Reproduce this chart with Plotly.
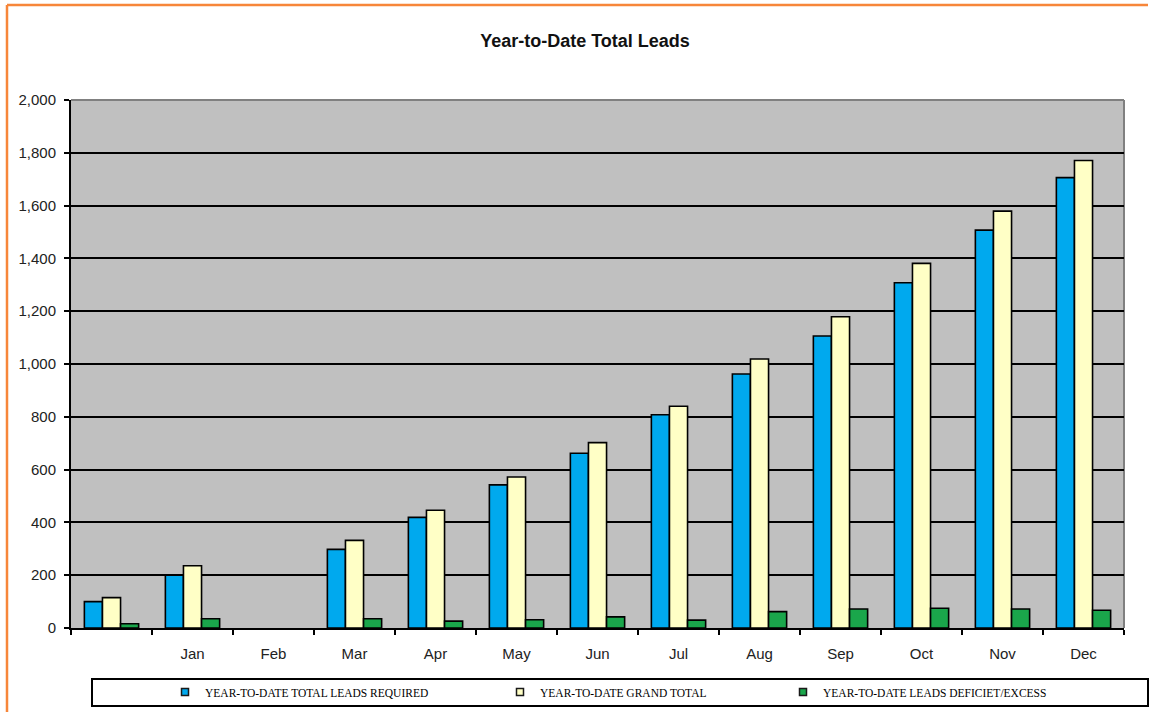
import plotly.graph_objects as go

categories = [" ", "Jan", "Feb", "Mar", "Apr", "May", "Jun", "Jul", "Aug", "Sep", "Oct", "Nov", "Dec"]
leads_required = [100, 200, None, 298, 419, 542, 662, 808, 962, 1106, 1308, 1507, 1706]
grand_total = [115, 236, None, 332, 446, 572, 702, 840, 1019, 1179, 1381, 1579, 1771]
deficit_excess = [16, 35, None, 35, 26, 31, 42, 30, 62, 72, 75, 72, 67]
y_ticks = [0, 200, 400, 600, 800, 1000, 1200, 1400, 1600, 1800, 2000]

series_names = ["YEAR-TO-DATE TOTAL LEADS REQUIRED", "YEAR-TO-DATE GRAND TOTAL", "YEAR-TO-DATE LEADS DEFICIET/EXCESS"]
series_colors = ["#00A9EE", "#FFFFC6", "#1AA64B"]

W, H = 1151, 712
L, R, T, B = 71, 1124, 100, 628
pw, ph = R - L, B - T

def px(x):
    return (x - L) / pw

def py(y):
    return (B - y) / ph

legend_ids = ["legend", "legend2", "legend3"]
legend_text_x = [205, 540, 823]

fig = go.Figure()
for name, vals, col in zip(series_names, [leads_required, grand_total, deficit_excess], series_colors):
    fig.add_trace(go.Bar(
        x=categories, y=vals, name=name, showlegend=False, legendgroup=name,
        marker=dict(color=col, line=dict(color="#000000", width=1.6)),
    ))
# legend entries with small square keys like the original
for name, col, lid in zip(series_names, series_colors, legend_ids):
    fig.add_trace(go.Scatter(
        x=[None], y=[None], name=name, mode="markers", legendgroup=name, legend=lid,
        marker=dict(symbol="square", size=7, color=col, line=dict(color="#1a1a1a", width=1.5)),
    ))

legend_style = dict(orientation="h", xanchor="left", y=py(692), yanchor="middle",
                    bgcolor="rgba(0,0,0,0)", borderwidth=0,
                    font=dict(family="Liberation Serif, Times New Roman", size=11.5, color="#000000"))

fig.update_layout(
    width=W, height=H,
    margin=dict(l=L, r=W - R, t=T, b=H - B, autoexpand=False),
    paper_bgcolor="#FFFFFF",
    plot_bgcolor="#C0C0C0",
    barmode="group",
    bargap=0.33,
    bargroupgap=0,
    title=dict(text="<b>Year-to-Date Total Leads</b>", x=px(585), xref="paper", xanchor="center",
               y=1 - 41 / H, yref="container", yanchor="middle",
               font=dict(family="Liberation Sans, Arial", size=18, color="#111111")),
    font=dict(family="Liberation Sans, Arial", size=15, color="#222222"),
    showlegend=True,
    legend=dict(x=px(legend_text_x[0] - 40), **legend_style),
    legend2=dict(x=px(legend_text_x[1] - 40), **legend_style),
    legend3=dict(x=px(legend_text_x[2] - 40), **legend_style),
    xaxis=dict(type="category", categoryorder="array", categoryarray=categories,
               showgrid=False, showline=True, linecolor="#000000", linewidth=2,
               ticks="outside", ticklen=5, tickwidth=2, tickcolor="#000000",
               tickson="boundaries", ticklabelstandoff=11,
               tickfont=dict(size=15, color="#222222"), range=[-0.5, 12.5], fixedrange=True),
    yaxis=dict(range=[0, 2000], tickvals=y_ticks, tickformat=",",
               showgrid=True, gridcolor="#000000", gridwidth=2,
               showline=True, linecolor="#000000", linewidth=2,
               ticks="outside", ticklen=5, tickwidth=2, tickcolor="#000000",
               ticklabelstandoff=5, zeroline=False,
               tickfont=dict(size=15, color="#222222")),
    shapes=[
        # gray plot-area border (top/right)
        dict(type="line", xref="paper", yref="paper", x0=0, x1=1, y0=1, y1=1,
             line=dict(color="#808080", width=2), layer="below"),
        dict(type="line", xref="paper", yref="paper", x0=1, x1=1, y0=0, y1=1,
             line=dict(color="#808080", width=2), layer="below"),
        # legend box
        dict(type="rect", xref="paper", yref="paper", x0=px(92), x1=px(1148), y0=py(706), y1=py(679),
             line=dict(color="#000000", width=2), fillcolor="rgba(0,0,0,0)"),
        # orange outer frame (left and top)
        dict(type="line", xref="paper", yref="paper", x0=px(7), x1=px(7), y0=py(5), y1=py(720),
             line=dict(color="#F7863A", width=2.5)),
        dict(type="line", xref="paper", yref="paper", x0=px(7), x1=px(1148), y0=py(5), y1=py(5),
             line=dict(color="#F7863A", width=2.5)),
    ],
)

fig.write_html("out.html", config={"displayModeBar": False},
               post_script="document.body.style.margin='0';")
